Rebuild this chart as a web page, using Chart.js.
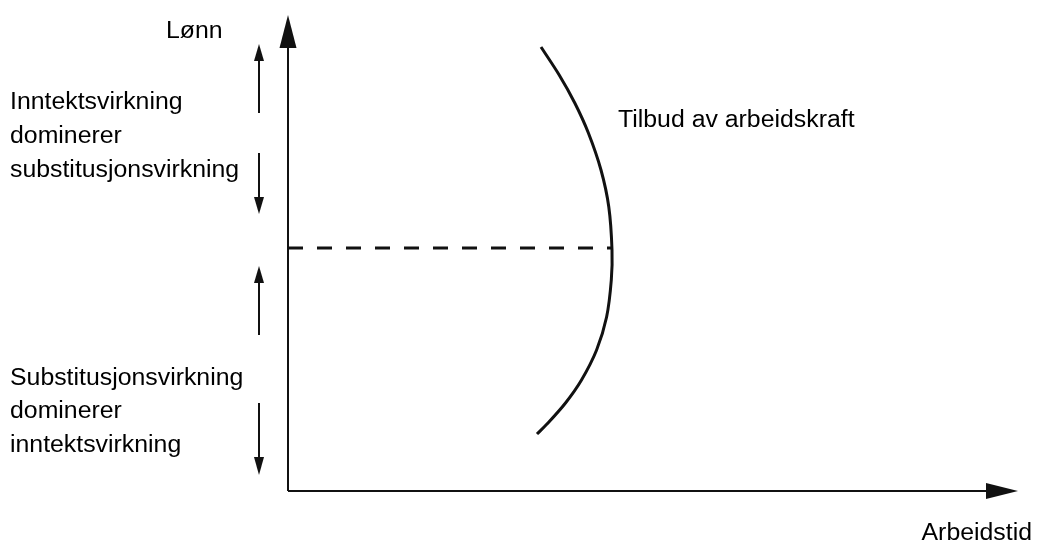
<!DOCTYPE html>
<html lang="no">
<head>
<meta charset="utf-8">
<title>Tilbud av arbeidskraft</title>
<script src="https://cdn.jsdelivr.net/npm/chart.js@4"></script>
<style>
    html, body { margin: 0; padding: 0; background: #fff; }
    #wrap { width: 1039px; height: 544px; }
</style>
</head>
<body>
<div id="wrap"><canvas id="myChart" width="1039" height="544"></canvas></div>
<script>
// Bakoverbøyd tilbudskurve (arbeidstid, lønn)
const supplyX = [25.3, 27.12, 28.68, 30.04, 31.3, 32.08, 32.4, 32.33, 31.86, 30.86, 29.35, 27.75, 26.0, 24.9];
const supplyY = [44.4, 41.6, 38.8, 35.8, 32.1, 28.4, 24.1, 21.1, 17.4, 14.1, 11.1, 8.8, 6.8, 5.7];

// Lønnsnivået der kurven bøyer
const turnWage = 24.3;
const turnHours = 32.3;

// Aksene
const axisTopY = 44.3;
const axisTipY = 47.6;
const axisEndX = 69.8;
const axisTipX = 73.0;

// Piler til venstre: [fra, til] langs lønnsaksen
const arrowX = -2.9;
const arrowSegments = [[43.0, 37.8], [33.8, 29.4], [20.8, 15.6], [8.8, 3.4]];
const arrowTips = [44.7, 27.7, 22.5, 1.6];

// Tekster
const upperLines = ['Inntektsvirkning', 'dominerer', 'substitusjonsvirkning'];
const upperLinesY = [38.2, 34.8, 31.4];
const lowerLines = ['Substitusjonsvirkning', 'dominerer', 'inntektsvirkning'];
const lowerLinesY = [10.6, 7.3, 3.9];
const textLeftX = -27.8;

document.addEventListener('DOMContentLoaded', () => {

    const ink = '#111';

    const line = (points, width, extra) => Object.assign({
        data: points,
        showLine: true,
        borderColor: ink,
        borderWidth: width,
        pointRadius: 0,
        fill: false
    }, extra || {});

    const datasets = [
        line(supplyX.map((x, i) => ({ x: x, y: supplyY[i] })), 3, { tension: 0.3 }),
        line([{ x: 0, y: turnWage }, { x: turnHours, y: turnWage }], 3, { borderDash: [15, 14] }),
        line([{ x: 0, y: 0 }, { x: 0, y: axisTopY }], 2),
        line([{ x: 0, y: 0 }, { x: axisEndX, y: 0 }], 2)
    ];
    arrowSegments.forEach(seg => {
        datasets.push(line([{ x: arrowX, y: seg[0] }, { x: arrowX, y: seg[1] }], 2));
    });

    const drawText = (ctx, text, px, py, align) => {
        ctx.save();
        ctx.translate(px, py);
        ctx.scale(1.08, 1);
        ctx.textAlign = align || 'left';
        ctx.textBaseline = 'alphabetic';
        ctx.fillText(text, 0, 0);
        ctx.restore();
    };

    const decorations = {
        id: 'decorations',
        afterDatasetsDraw(chart) {
            const ctx = chart.ctx;
            const sx = chart.scales.x;
            const sy = chart.scales.y;
            const X = v => sx.getPixelForValue(v);
            const Y = v => sy.getPixelForValue(v);

            ctx.save();
            ctx.fillStyle = ink;

            // pilhoder på aksene
            const ox = X(0);
            ctx.beginPath();
            ctx.moveTo(ox, Y(axisTipY));
            ctx.lineTo(ox - 8.5, Y(axisTopY));
            ctx.lineTo(ox + 8.5, Y(axisTopY));
            ctx.closePath();
            ctx.fill();

            const oy = Y(0);
            ctx.beginPath();
            ctx.moveTo(X(axisTipX), oy);
            ctx.lineTo(X(axisEndX), oy - 8);
            ctx.lineTo(X(axisEndX), oy + 8);
            ctx.closePath();
            ctx.fill();

            // små pilhoder
            const ax = X(arrowX);
            arrowTips.forEach((tip, i) => {
                const seg = arrowSegments[i];
                const base = (i % 2 === 0) ? seg[0] : seg[1];
                ctx.beginPath();
                ctx.moveTo(ax, Y(tip));
                ctx.lineTo(ax - 5, Y(base));
                ctx.lineTo(ax + 5, Y(base));
                ctx.closePath();
                ctx.fill();
            });

            ctx.fillStyle = '#000';
            ctx.font = '23px "Liberation Sans", Arial, sans-serif';
            upperLines.forEach((t, i) => drawText(ctx, t, X(textLeftX), Y(upperLinesY[i])));
            lowerLines.forEach((t, i) => drawText(ctx, t, X(textLeftX), Y(lowerLinesY[i])));
            drawText(ctx, 'Lønn', X(-12.2), Y(45.3));
            drawText(ctx, 'Tilbud av arbeidskraft', X(33.0), Y(36.4));
            drawText(ctx, 'Arbeidstid', X(74.4), Y(-4.9), 'right');

            ctx.restore();
        }
    };

    new Chart(document.getElementById('myChart').getContext('2d'), {
        type: 'scatter',
        data: { datasets: datasets },
        options: {
            responsive: false,
            animation: false,
            layout: { padding: 0 },
            plugins: {
                legend: { display: false },
                tooltip: { enabled: false }
            },
            scales: {
                x: { type: 'linear', display: false, min: -28.8, max: 75.1 },
                y: { type: 'linear', display: false, min: -5.3, max: 49.1 }
            }
        },
        plugins: [decorations]
    });
});
</script>
</body>
</html>
